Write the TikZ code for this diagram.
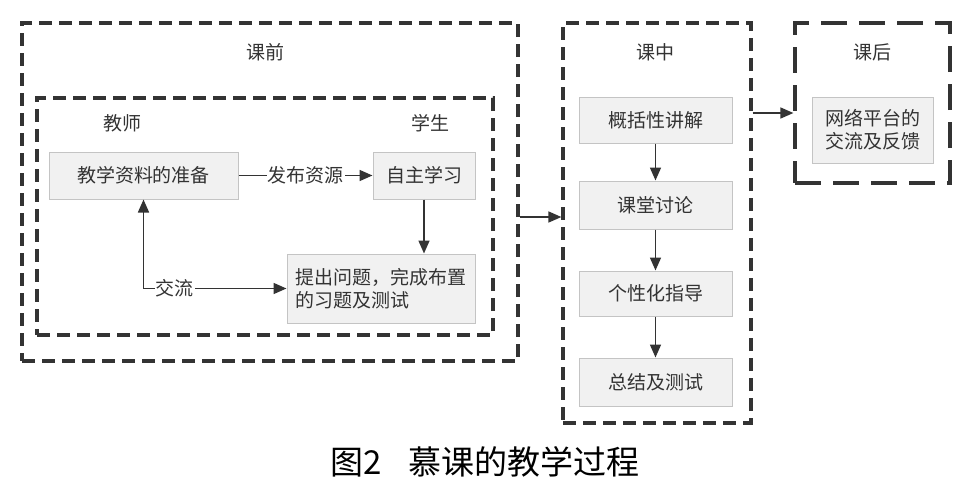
\documentclass[tikz,border=0pt]{standalone}
\usepackage{fontspec}
\newfontfamily\cjk{Noto Sans CJK SC}
\usetikzlibrary{arrows.meta}
\definecolor{ink}{HTML}{333333}
\definecolor{boxline}{HTML}{C4C4C4}
\definecolor{boxfill}{HTML}{F1F1F1}

\begin{document}
\begin{tikzpicture}[x=1pt, y=-1pt, >={Triangle[length=13pt,width=11pt]},
    every node/.style={font=\cjk\fontsize{19}{23}\selectfont, text=ink},
    frame/.style={draw=ink, line width=3.2pt, dash pattern=on 13pt off 7pt, inner sep=0pt},
    stage/.style={draw=boxline, fill=boxfill, line width=1pt, inner sep=0pt, align=center},
    link/.style={draw=ink, line width=1.6pt}]
    \useasboundingbox (0,0) rectangle (970,482);

    % Frames
    \node[frame, minimum width=496pt, minimum height=338pt] (pre) at (270,192) {};
    \node[frame, minimum width=456pt, minimum height=237pt] (preIn) at (265,216.5) {};
    \node[frame, minimum width=188pt, minimum height=400pt] (mid) at (657,223) {};
    \node[frame, dash pattern=on 26pt off 12pt, minimum width=155pt, minimum height=160pt] (post) at (872.5,103) {};

    % Frame titles
    \node (preT) at (265,52) {课前};
    \node (teacherT) at (122,123) {教师};
    \node (studentT) at (430,123) {学生};
    \node (midT) at (655,52) {课中};
    \node (postT) at (872,52) {课后};

    % Before class
    \node[stage, minimum width=189pt, minimum height=47pt] (prep) at (143.5,175.5) {教学资料的准备};
    \node[stage, minimum width=102pt, minimum height=47pt] (study) at (424,175.5) {自主学习};
    \node[stage, minimum width=188pt, minimum height=69pt, align=left] (task) at (381,288.5) {提出问题，完成布置\\的习题及测试};

    \draw[link, ->] (prep) -- node[fill=white, inner sep=1pt] {发布资源} (study);
    \draw[link, ->] (study) -- (study |- task.north);
    \draw[link, <->] (prep) |- node[pos=0.61, fill=white, inner sep=1pt] {交流} (task);

    % In class
    \node[stage, minimum width=153pt, minimum height=46pt] (lecture) at (655.5,120) {概括性讲解};
    \node[stage, minimum width=153pt, minimum height=48pt] (discuss) at (655.5,205) {课堂讨论};
    \node[stage, minimum width=153pt, minimum height=45pt] (guide) at (655.5,293.5) {个性化指导};
    \node[stage, minimum width=153pt, minimum height=48pt] (test) at (655.5,382) {总结及测试};

    \draw[link, ->] (lecture) -- (discuss);
    \draw[link, ->] (discuss) -- (guide);
    \draw[link, ->] (guide) -- (test);

    % After class
    \node[stage, minimum width=121pt, minimum height=66pt] (feedback) at (872.5,130) {网络平台的\\交流及反馈};

    % Between stages
    \coordinate (j1) at (540,217);
    \coordinate (j2) at (773,113);
    \draw[link, ->] (pre.east |- j1) -- (mid.west |- j1);
    \draw[link, ->] (mid.east |- j2) -- (post.west |- j2);

    % Caption
    \node[font=\cjk\fontsize{33}{36}\selectfont, text=black] (caption) at (485,462) {图2\hspace{0.8em}慕课的教学过程};
\end{tikzpicture}
\end{document}
